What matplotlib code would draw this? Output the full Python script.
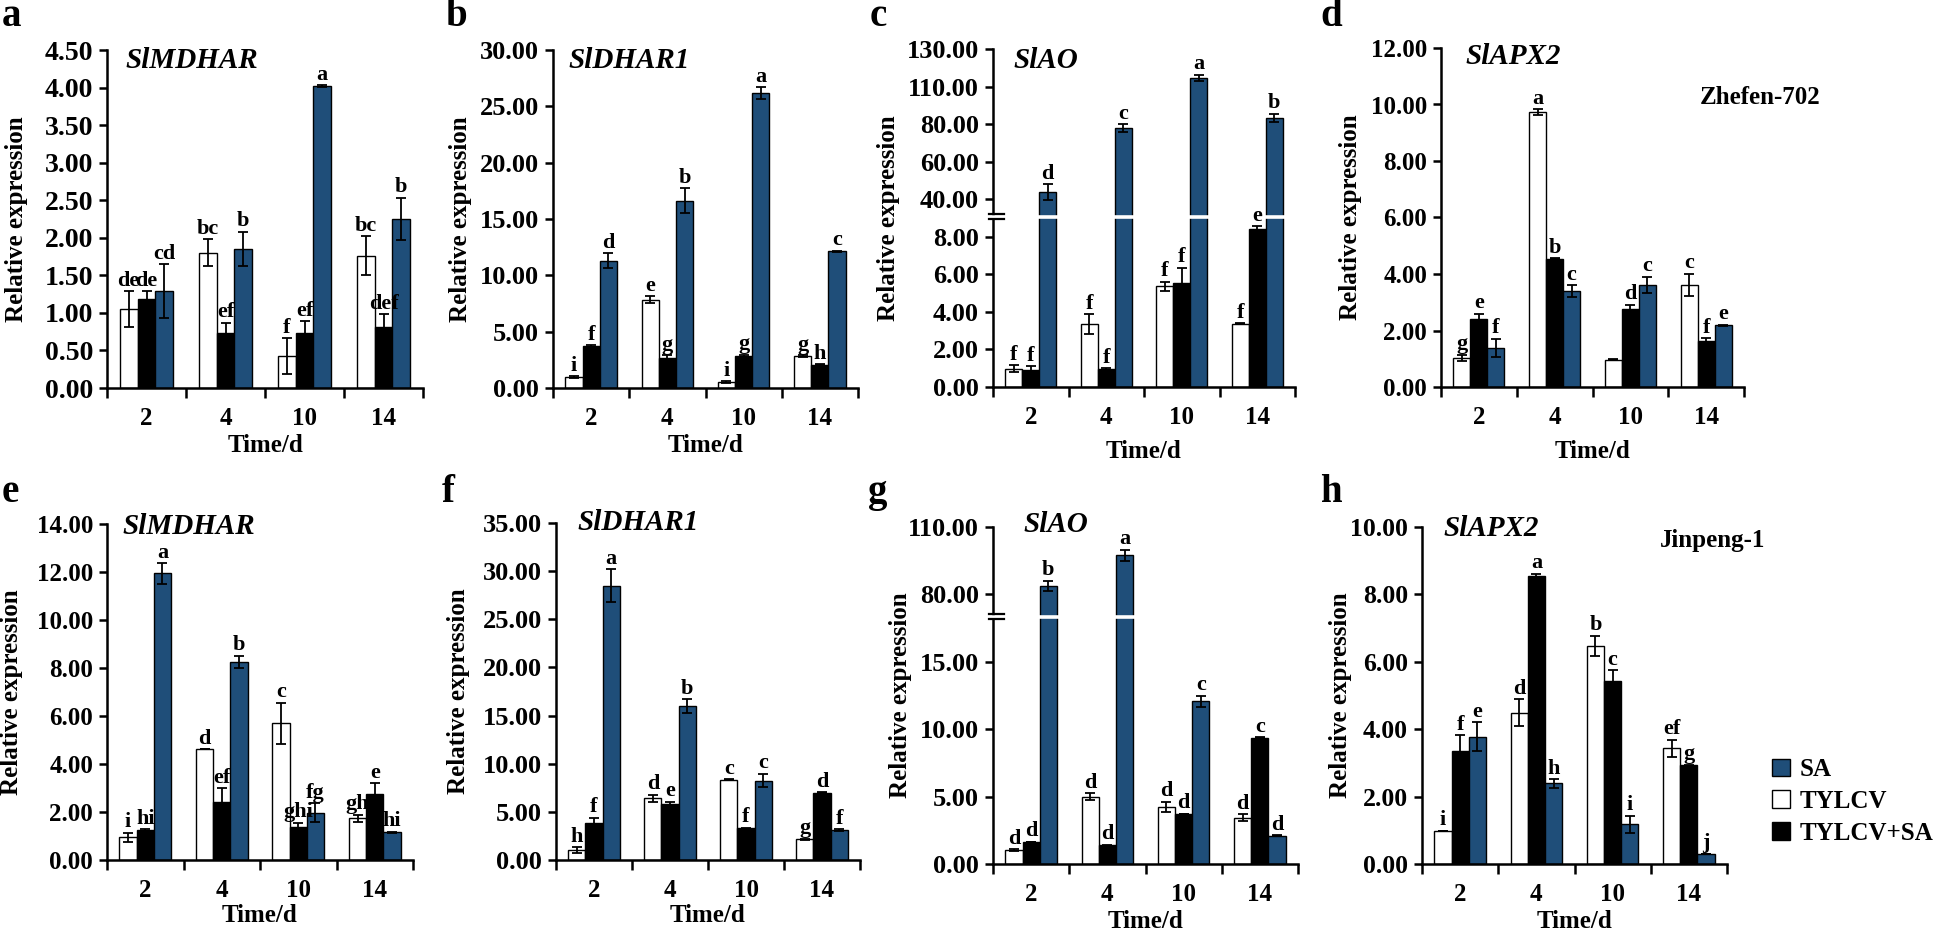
import numpy as np
import matplotlib
matplotlib.use('Agg')
import matplotlib.pyplot as plt
import matplotlib.transforms as mtransforms
from matplotlib.patches import Patch

plt.rcParams['font.family'] = ['Liberation Serif', 'DejaVu Serif']
plt.rcParams['font.weight'] = 'bold'

W, H = 1946, 932
BLUE = '#1F4E79'
COLORS = ['white', 'black', BLUE]          # TYLCV, TYLCV+SA, SA
BAR_W = 0.225
FS = 18

days = ['2', '4', '10', '14']
series = ['TYLCV', 'TYLCV+SA', 'SA']

# each panel: rows = TYLCV, TYLCV+SA, SA ; columns = days
a_mean = [[1.05, 1.80, 0.42, 1.76], [1.18, 0.73, 0.73, 0.81], [1.29, 1.85, 4.02, 2.25]]
a_err = [[0.24, 0.18, 0.24, 0.26], [0.11, 0.14, 0.16, 0.17], [0.36, 0.23, 0.01, 0.28]]
a_let = [['de', 'bc', 'f', 'bc'], ['de', 'ef', 'ef', 'def'], ['cd', 'b', 'a', 'b']]

b_mean = [[0.95, 7.83, 0.50, 2.81], [3.69, 2.66, 2.87, 2.07], [11.29, 16.61, 26.16, 12.12]]
b_err = [[0.10, 0.30, 0.10, 0.10], [0.10, 0.24, 0.10, 0.03], [0.68, 1.12, 0.53, 0.05]]
b_let = [['i', 'e', 'i', 'g'], ['f', 'g', 'g', 'h'], ['d', 'b', 'a', 'c']]

c_mean = [[0.98, 3.36, 5.36, 3.36], [0.93, 0.96, 5.52, 8.39], [43.6, 77.9, 114.8, 84.8]]
c_err = [[0.18, 0.52, 0.25, 0.03], [0.17, 0.03, 0.82, 0.16], [4.3, 2.0, 1.6, 3.5]]
c_let = [['f', 'f', 'f', 'f'], ['f', 'f', 'f', 'e'], ['d', 'c', 'a', 'b']]

d_mean = [[1.03, 9.73, 0.97, 3.62], [2.41, 4.54, 2.77, 1.62], [1.38, 3.40, 3.62, 2.19]]
d_err = [[0.12, 0.10, 0.03, 0.39], [0.18, 0.02, 0.15, 0.10], [0.33, 0.20, 0.28, 0.02]]
d_let = [['g', 'a', '', 'c'], ['e', 'b', 'd', 'f'], ['f', 'c', 'c', 'e']]

e_mean = [[0.94, 4.61, 5.69, 1.74], [1.25, 2.43, 1.39, 2.74], [11.94, 8.26, 1.97, 1.15]]
e_err = [[0.20, 0.00, 0.86, 0.14], [0.03, 0.55, 0.17, 0.46], [0.42, 0.25, 0.39, 0.03]]
e_let = [['i', 'd', 'c', 'gh'], ['hi', 'ef', 'ghi', 'e'], ['a', 'b', 'fg', 'hi']]

f_mean = [[1.04, 6.41, 8.32, 2.15], [3.88, 5.79, 3.29, 7.00], [28.48, 16.00, 8.25, 3.12]]
f_err = [[0.28, 0.35, 0.05, 0.03], [0.52, 0.28, 0.05, 0.05], [1.73, 0.69, 0.69, 0.08]]
f_let = [['h', 'd', 'c', 'g'], ['f', 'e', 'f', 'd'], ['a', 'b', 'c', 'f']]

g_mean = [[1.04, 5.00, 4.26, 3.44], [1.63, 1.39, 3.71, 9.36], [83.9, 97.4, 12.08, 2.10]]
g_err = [[0.05, 0.25, 0.37, 0.25], [0.03, 0.03, 0.03, 0.03], [2.2, 2.5, 0.40, 0.03]]
g_let = [['d', 'd', 'd', 'd'], ['d', 'd', 'd', 'c'], ['b', 'a', 'c', 'd']]

h_mean = [[0.99, 4.49, 6.47, 3.43], [3.35, 8.55, 5.42, 2.93], [3.77, 2.39, 1.18, 0.30]]
h_err = [[0.00, 0.40, 0.30, 0.25], [0.47, 0.07, 0.33, 0.02], [0.43, 0.13, 0.25, 0.00]]
h_let = [['i', 'd', 'b', 'ef'], ['f', 'a', 'c', 'g'], ['e', 'h', 'i', 'j']]

# y ticks (broken axes for c and g)
a_ticks = [0, 0.5, 1, 1.5, 2, 2.5, 3, 3.5, 4, 4.5]
b_ticks = [0, 5, 10, 15, 20, 25, 30]
c_ticks = [0, 2, 4, 6, 8, 40, 60, 80, 110, 130]
d_ticks = [0, 2, 4, 6, 8, 10, 12]
e_ticks = [0, 2, 4, 6, 8, 10, 12, 14]
f_ticks = [0, 5, 10, 15, 20, 25, 30, 35]
g_ticks = [0, 5, 10, 15, 80, 110]
h_ticks = [0, 2, 4, 6, 8, 10]

# layout in pixels: axes box (left, right, bottom, top), ylabel x, xlabel y, title, panel letter
panels = [
    dict(tag='a', gene='SlMDHAR', box=(107, 423, 388, 50), ylx=17, xly=446, tx=(125, 60), lx=(2, 26),
         data=(a_mean, a_err, a_let), ticks=a_ticks, tfs=20),
    dict(tag='b', gene='SlDHAR1', box=(553, 858, 388, 50), ylx=461, xly=446, tx=(568, 60), lx=(445, 26),
         data=(b_mean, b_err, b_let), ticks=b_ticks, tfs=19),
    dict(tag='c', gene='SlAO', box=(993, 1295, 387, 49), ylx=889, xly=452, tx=(1013, 60), lx=(870, 26),
         data=(c_mean, c_err, c_let), ticks=c_ticks, tfs=19,
         scale=([-2, 0, 8, 9.07, 40, 60, 80, 110, 130, 150], [-1, 0, 4, 4.535, 5, 6, 7, 8, 9, 10]), brk=9.07),
    dict(tag='d', gene='SlAPX2', box=(1441, 1744, 387, 48), ylx=1350, xly=452, tx=(1465, 57), lx=(1320, 26),
         data=(d_mean, d_err, d_let), ticks=d_ticks, tfs=18, note=('Zhefen-702', 1760, 98)),
    dict(tag='e', gene='SlMDHAR', box=(107, 413, 860, 524), ylx=12, xly=916, tx=(122, 526), lx=(2, 502),
         data=(e_mean, e_err, e_let), ticks=e_ticks, tfs=18),
    dict(tag='f', gene='SlDHAR1', box=(556, 860, 860, 523), ylx=459, xly=916, tx=(577, 523), lx=(442, 502),
         data=(f_mean, f_err, f_let), ticks=f_ticks, tfs=19),
    dict(tag='g', gene='SlAO', box=(993, 1298, 864, 527), ylx=900, xly=921, tx=(1023, 525), lx=(868, 502),
         data=(g_mean, g_err, g_let), ticks=g_ticks, tfs=19,
         scale=([-5, 0, 15, 18.4, 80, 110, 140], [-1, 0, 3, 3.67, 4, 5, 6]), brk=18.4),
    dict(tag='h', gene='SlAPX2', box=(1422, 1727, 864, 527), ylx=1341, xly=921, tx=(1443, 528), lx=(1320, 502),
         data=(h_mean, h_err, h_let), ticks=h_ticks, tfs=18.5, note=('Jinpeng-1', 1713, 540)),
]

fig = plt.figure(figsize=(W / 100, H / 100), dpi=100)


def fx(px):
    return px / W


def fy(py):
    return 1 - py / H


def draw_panel(p):
    l, r, b, t = p['box']
    ax = fig.add_axes([fx(l), fy(b), (r - l) / W, (b - t) / H])
    mean, err, letters = p['data']
    if 'scale' in p:
        vals, pos = p['scale']
        ax.set_yscale('function', functions=(lambda v: np.interp(v, vals, pos),
                                             lambda u: np.interp(u, pos, vals)))
    x = np.arange(len(days))
    for i in range(len(series)):
        xs = x + (i - 1) * BAR_W
        ax.bar(xs, mean[i], BAR_W, color=COLORS[i], edgecolor='black', linewidth=1.0, zorder=2)
        ax.errorbar(xs, mean[i], yerr=err[i], fmt='none', ecolor='black', elinewidth=1.3,
                    capsize=3.5, capthick=1.3, zorder=3)
        for xi, m, e, lab in zip(xs, mean[i], err[i], letters[i]):
            ax.annotate(lab, (xi, m + e), xytext=(0, 4), textcoords='offset points',
                        ha='center', va='baseline', fontsize=16, fontweight='bold', zorder=6)

    ax.set_xlim(-0.5, len(days) - 0.5)
    ax.set_xticks(np.arange(len(days) + 1) - 0.5)
    ax.set_xticklabels([])
    ax.set_xticks(x, minor=True)
    ax.set_xticklabels(days, minor=True)
    ax.tick_params(axis='x', which='major', direction='out', length=7, width=1.8)
    ax.tick_params(axis='x', which='minor', length=0, pad=14, labelsize=FS)

    ticks = p['ticks']
    ax.set_yticks(ticks)
    ax.set_yticklabels([f'{v:.2f}' for v in ticks])
    ax.set_ylim(0, ticks[-1])
    ax.tick_params(axis='y', which='major', direction='out', length=6, width=1.8, pad=4,
                   labelsize=p['tfs'])
    ax.tick_params(axis='y', which='minor', length=0)

    for s in ('top', 'right'):
        ax.spines[s].set_visible(False)
    for s in ('left', 'bottom'):
        ax.spines[s].set_linewidth(1.8)

    if 'brk' in p:
        brk = p['brk']
        trans = mtransforms.blended_transform_factory(ax.transAxes, ax.transData)
        ax.plot([-0.02, 1], [brk, brk], transform=trans, color='white', lw=2.6,
                clip_on=False, zorder=4)
        for dy in (-2.8, 2.8):
            tr = mtransforms.offset_copy(trans, fig=fig, y=dy, units='dots')
            ax.plot([-0.012, 0.035], [brk, brk], transform=tr, color='black', lw=1.6,
                    clip_on=False, zorder=5)

    fig.text(fx(p['ylx']), fy((b + t) / 2), 'Relative expression', rotation=90,
             ha='center', va='center', fontsize=FS, fontweight='bold')
    fig.text(fx((l + r) / 2), fy(p['xly']), 'Time/d', ha='center', va='center',
             fontsize=FS, fontweight='bold')
    fig.text(fx(p['tx'][0]), fy(p['tx'][1]), p['gene'], ha='left', va='center',
             fontsize=21, fontweight='bold', style='italic')
    fig.text(fx(p['lx'][0]), fy(p['lx'][1]), p['tag'], ha='left', va='baseline',
             fontsize=28, fontweight='bold')
    if 'note' in p:
        txt, nx, ny = p['note']
        fig.text(fx(nx), fy(ny), txt, ha='center', va='center', fontsize=18, fontweight='bold')
    return ax


for p in panels:
    draw_panel(p)

handles = [Patch(facecolor=BLUE, edgecolor='black', label='SA'),
           Patch(facecolor='white', edgecolor='black', label='TYLCV'),
           Patch(facecolor='black', edgecolor='black', label='TYLCV+SA')]
fig.legend(handles=handles, loc='upper left', bbox_to_anchor=(fx(1772), fy(758)), frameon=False,
           fontsize=FS, handlelength=0.7, handleheight=0.7, handletextpad=0.4,
           labelspacing=0.35, borderpad=0, borderaxespad=0)

fig.savefig('out.png', dpi=100)
